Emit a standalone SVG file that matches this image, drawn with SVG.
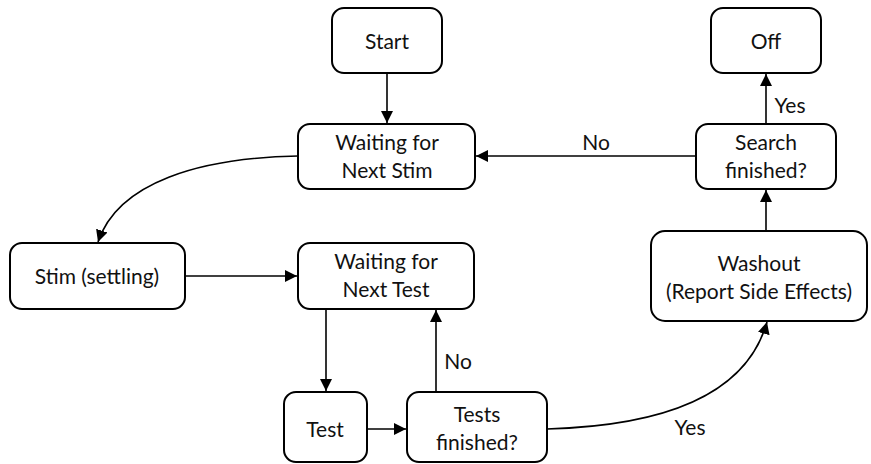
<svg xmlns="http://www.w3.org/2000/svg" width="871" height="464" viewBox="0 0 871 464">
  <style>
    .box { fill: #ffffff; stroke: #000000; stroke-width: 2; }
    .lbl { font-family: Lato, "Liberation Sans", sans-serif; font-size: 21px; fill: #111111; text-anchor: middle; }
    .edge { fill: none; stroke: #000000; stroke-width: 1.6; marker-end: url(#arrow); }
  </style>
  <defs>
    <marker id="arrow" viewBox="0 0 10 10" refX="10" refY="5" markerWidth="7.5" markerHeight="7.5" markerUnits="strokeWidth" orient="auto">
      <path d="M0,0 L10,5 L0,10 Z" fill="#000000"/>
    </marker>
  </defs>

  <g id="connectors">
    <path class="edge" d="M387,73 L387,123"/>
    <path class="edge" d="M696,156 L476,156"/>
    <path class="edge" d="M766,124 L766,74"/>
    <path class="edge" d="M766,231 L766,190"/>
    <path class="edge" d="M298,156 C200,158 118,182 98,242"/>
    <path class="edge" d="M185,276 L297,276"/>
    <path class="edge" d="M326,309 L326,391"/>
    <path class="edge" d="M367,429 L406,429"/>
    <path class="edge" d="M436,392 L436,310"/>
    <path class="edge" d="M547,429 C655,426 745,400 767,322"/>
    <text class="lbl" x="596" y="150">No</text>
    <text class="lbl" x="790" y="113">Yes</text>
    <text class="lbl" x="458" y="369">No</text>
    <text class="lbl" x="690" y="435">Yes</text>
  </g>

  <g id="start">
    <rect class="box" x="332" y="8" width="110" height="65" rx="12"/>
    <text class="lbl" x="387" y="49">Start</text>
  </g>
  <g id="off">
    <rect class="box" x="711" y="8" width="110" height="65" rx="12"/>
    <text class="lbl" x="766" y="49">Off</text>
  </g>
  <g id="waiting-stim">
    <rect class="box" x="298" y="124" width="177" height="65" rx="12"/>
    <text class="lbl" x="387" y="150">Waiting for</text>
    <text class="lbl" x="387" y="178">Next Stim</text>
  </g>
  <g id="search-finished">
    <rect class="box" x="696" y="124" width="140" height="65" rx="12"/>
    <text class="lbl" x="766" y="150">Search</text>
    <text class="lbl" x="766" y="178">finished?</text>
  </g>
  <g id="stim-settling">
    <rect class="box" x="10" y="243" width="175" height="66" rx="12"/>
    <text class="lbl" x="97" y="284">Stim (settling)</text>
  </g>
  <g id="waiting-test">
    <rect class="box" x="298" y="243" width="176" height="66" rx="12"/>
    <text class="lbl" x="386" y="269">Waiting for</text>
    <text class="lbl" x="386" y="297">Next Test</text>
  </g>
  <g id="washout">
    <rect class="box" x="651" y="231" width="216" height="90" rx="14"/>
    <text class="lbl" x="759" y="271">Washout</text>
    <text class="lbl" x="759" y="299">(Report Side Effects)</text>
  </g>
  <g id="test">
    <rect class="box" x="284" y="392" width="83" height="70" rx="12"/>
    <text class="lbl" x="325" y="437">Test</text>
  </g>
  <g id="tests-finished">
    <rect class="box" x="407" y="392" width="140" height="70" rx="12"/>
    <text class="lbl" x="477" y="422">Tests</text>
    <text class="lbl" x="477" y="450">finished?</text>
  </g>
</svg>
